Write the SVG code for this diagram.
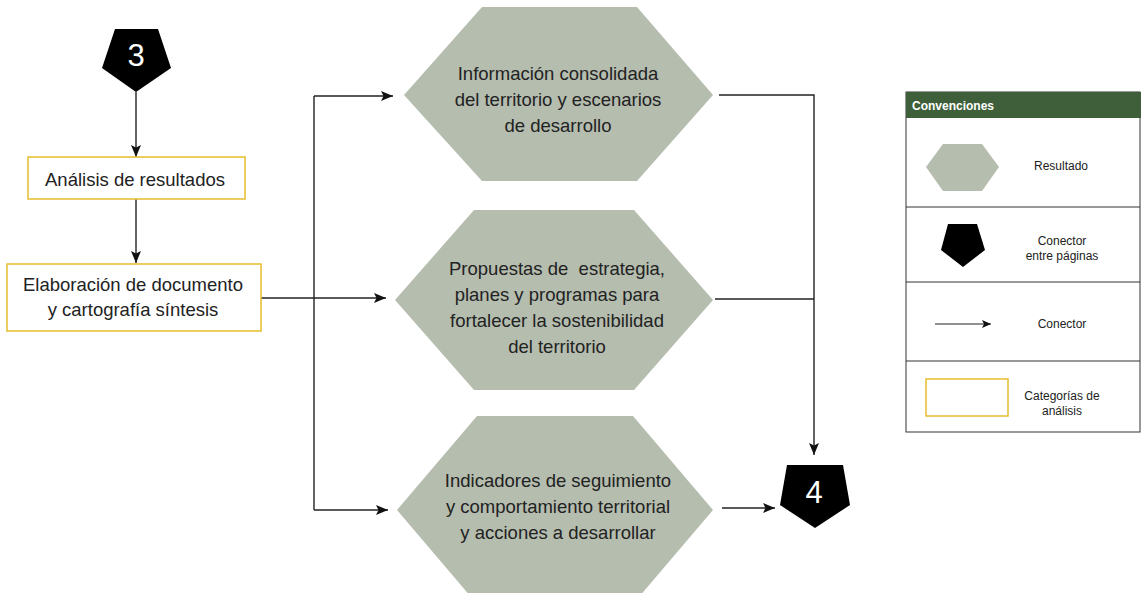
<svg xmlns="http://www.w3.org/2000/svg" width="1141" height="593" viewBox="0 0 1141 593">
<defs>
<style>
.hex{fill:#b5bdaf;}
.pent{fill:#000;}
.box{fill:#fff;stroke:#e6bd2c;stroke-width:1.5;}
.t{font-family:"Liberation Sans",Arial,sans-serif;font-size:18.5px;fill:#222;text-anchor:middle;}
.num{font-family:"Liberation Sans",Arial,sans-serif;font-size:31px;fill:#fff;text-anchor:middle;}
.lt{font-family:"Liberation Sans",Arial,sans-serif;font-size:12px;fill:#222;text-anchor:middle;}
.lh{font-family:"Liberation Sans",Arial,sans-serif;font-size:12px;font-weight:bold;fill:#fff;}
.c{fill:none;stroke:#222;stroke-width:1.4;}
.ca{fill:none;stroke:#222;stroke-width:1.4;marker-end:url(#ah);}
.lg{fill:#fff;stroke:#333;stroke-width:1;}
</style>
<marker id="ah" markerUnits="userSpaceOnUse" markerWidth="13" markerHeight="10" refX="12" refY="5" orient="auto">
<path d="M0,0 L12,5 L0,10 L2.5,5 z" fill="#111"/>
</marker>
<marker id="ahs" markerUnits="userSpaceOnUse" markerWidth="10" markerHeight="8" refX="9" refY="4" orient="auto">
<path d="M0,0 L9,4 L0,8 L2,4 z" fill="#111"/>
</marker>
</defs>

<g id="connectors">
<path class="ca" d="M136,92 L136,157"/>
<path class="ca" d="M136,199 L136,263"/>
<path class="ca" d="M261,298 L386,298"/>
<path class="c" d="M314,96 L314,510"/>
<path class="ca" d="M314,96 L393,96"/>
<path class="ca" d="M314,510 L388,510"/>
<path class="ca" d="M719,95 L814,95 L814,455"/>
<path class="c" d="M715,299 L814,299"/>
<path class="ca" d="M722,508 L775,508"/>
</g>

<g id="node-3">
<polygon class="pent" points="115,29 158,29 171,68 136,92 102,68"/>
<text class="num" x="136" y="66">3</text>
</g>

<g id="node-analisis">
<rect class="box" x="28" y="157" width="217" height="42"/>
<text class="t" x="135" y="186">Análisis de resultados</text>
</g>

<g id="node-elaboracion">
<rect class="box" x="7" y="264" width="254" height="67"/>
<text class="t" x="133" y="291">Elaboración de documento</text>
<text class="t" x="133" y="316">y cartografía síntesis</text>
</g>

<g id="node-informacion">
<polygon class="hex" points="482,7 637,7 713,95 637,181 482,181 404,95"/>
<text class="t" x="558" y="80">Información consolidada</text>
<text class="t" x="558" y="106">del territorio y escenarios</text>
<text class="t" x="558" y="132">de desarrollo</text>
</g>

<g id="node-propuestas">
<polygon class="hex" points="474,210 634,210 713,300 634,390 474,390 395,300"/>
<text class="t" x="557" y="275" xml:space="preserve">Propuestas de  estrategia,</text>
<text class="t" x="557" y="301">planes y programas para</text>
<text class="t" x="557" y="327">fortalecer la sostenibilidad</text>
<text class="t" x="557" y="353">del territorio</text>
</g>

<g id="node-indicadores">
<polygon class="hex" points="477,416 633,416 713,510 633,604 477,604 397,510"/>
<text class="t" x="558" y="487">Indicadores de seguimiento</text>
<text class="t" x="558" y="513">y comportamiento territorial</text>
<text class="t" x="558" y="539">y acciones a desarrollar</text>
</g>

<g id="node-4">
<polygon class="pent" points="787,465 843,465 850,505 815,528 780,505"/>
<text class="num" x="814" y="503">4</text>
</g>

<g id="legend">
<rect class="lg" x="906" y="92" width="234" height="340"/>
<rect x="906" y="92" width="235" height="26" fill="#3e5f3a"/>
<text class="lh" x="912" y="110">Convenciones</text>
<line x1="906" y1="207" x2="1140" y2="207" stroke="#333" stroke-width="1"/>
<line x1="906" y1="282" x2="1140" y2="282" stroke="#333" stroke-width="1"/>
<line x1="906" y1="361" x2="1140" y2="361" stroke="#333" stroke-width="1"/>
<polygon class="hex" points="926,167 943,144 982,144 999,167 982,191 943,191"/>
<text class="lt" x="1061" y="170">Resultado</text>
<polygon class="pent" points="948,224 977,224 985,250 963,267 941,250"/>
<text class="lt" x="1062" y="245">Conector</text>
<text class="lt" x="1062" y="260">entre páginas</text>
<line x1="935" y1="324" x2="991" y2="324" stroke="#222" stroke-width="1.2" marker-end="url(#ahs)"/>
<text class="lt" x="1062" y="328">Conector</text>
<rect class="box" x="926" y="379" width="82" height="37"/>
<text class="lt" x="1062" y="400">Categorías de</text>
<text class="lt" x="1062" y="415">análisis</text>
</g>
</svg>
